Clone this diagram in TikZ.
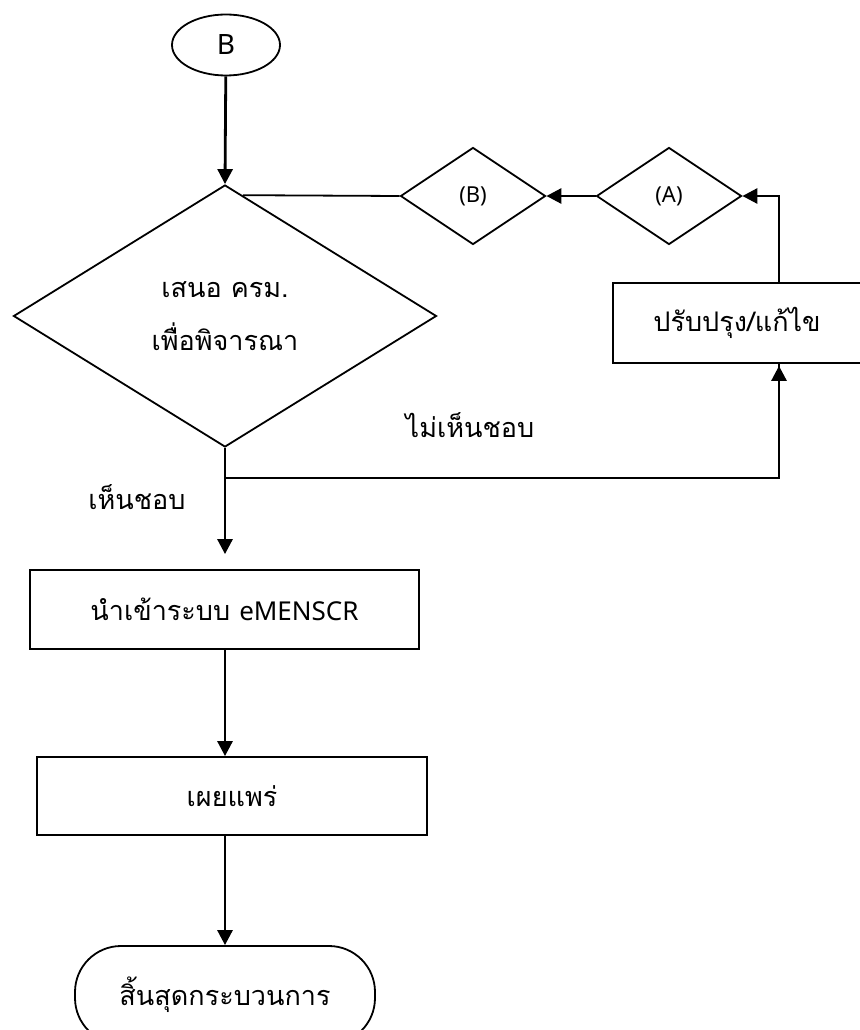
\documentclass[tikz,border=0pt]{standalone}
\usepackage{fontspec}
\setmainfont{Noto Sans}
\newfontfamily\thaif[Script=Thai]{Loma}
\usetikzlibrary{shapes.geometric,shapes.misc,arrows.meta,calc}
\begin{document}
\begin{tikzpicture}[x=1pt,y=-1pt,
  box/.style={draw,line width=1.8pt,rectangle,inner sep=0pt,align=center},
  dia/.style={draw,line width=1.8pt,diamond,inner sep=0pt,align=center},
  thtxt/.style={font=\thaif\fontsize{27}{53}\selectfont},
  latxt/.style={font=\fontsize{22}{26}\selectfont},
  arr/.style={line width=2.8pt,-{Triangle[length=15pt,width=15pt]}},
  ln/.style={line width=2.2pt}]
\useasboundingbox (0,0) rectangle (859,1030);
% nodes
\node[draw,line width=1.8pt,ellipse,minimum width=108pt,minimum height=61pt,inner sep=0pt,font=\fontsize{28}{32}\selectfont] (start) at (226,45) {B};
\node[dia,minimum width=423pt,minimum height=262pt,thtxt] (dec) at (225,316) {เสนอ ครม.\\[0pt]เพื่อพิจารณา};
\node[dia,minimum width=145pt,minimum height=97pt,latxt] (db) at (473,196) {(B)};
\node[dia,minimum width=145pt,minimum height=97pt,latxt] (da) at (669,196) {(A)};
\node[box,minimum width=248pt,minimum height=80pt,thtxt] (fix) at (737,323) {ปรับปรุง/แก้ไข};
\node[box,minimum width=389pt,minimum height=79pt,thtxt] (imp) at (224.5,609.5) {นำเข้าระบบ {\fontspec{Noto Sans}\fontsize{26}{30}\selectfont eMENSCR}};
\node[box,minimum width=390pt,minimum height=78pt,thtxt] (pub) at (232,796) {เผยแพร่};
\node[draw,line width=1.8pt,rectangle,rounded corners=46pt,minimum width=300pt,minimum height=98pt,inner sep=0pt,thtxt] (fin) at (225,995) {สิ้นสุดกระบวนการ};
\node[thtxt] (no) at (470,425) {ไม่เห็นชอบ};
\node[thtxt] (yes) at (137,497) {เห็นชอบ};
\coordinate (j) at (225,478);
% connectors
\draw[arr] (start) -- (dec.north);
\draw[line width=1.8pt] (db.west) -- ($(dec.north)!0.084!(dec.east)$);
\draw[arr] (da.west) -- (db.east);
\draw[arr] ($(fix.north)+(42,0)$) |- (da.east);
\draw[arr,shorten >=15pt] (dec.south) -- (dec.south |- imp.north);
\draw[ln] (j) -| ($(fix.south)+(42,0)$);
\draw[arr] ($(j)+(554,0)$) -- ($(fix.south)+(42,2)$);
\draw[arr] (imp.south -| dec.south) -- (dec.south |- pub.north);
\draw[arr] (pub.south -| dec.south) -- (fin.north);
\end{tikzpicture}
\end{document}
